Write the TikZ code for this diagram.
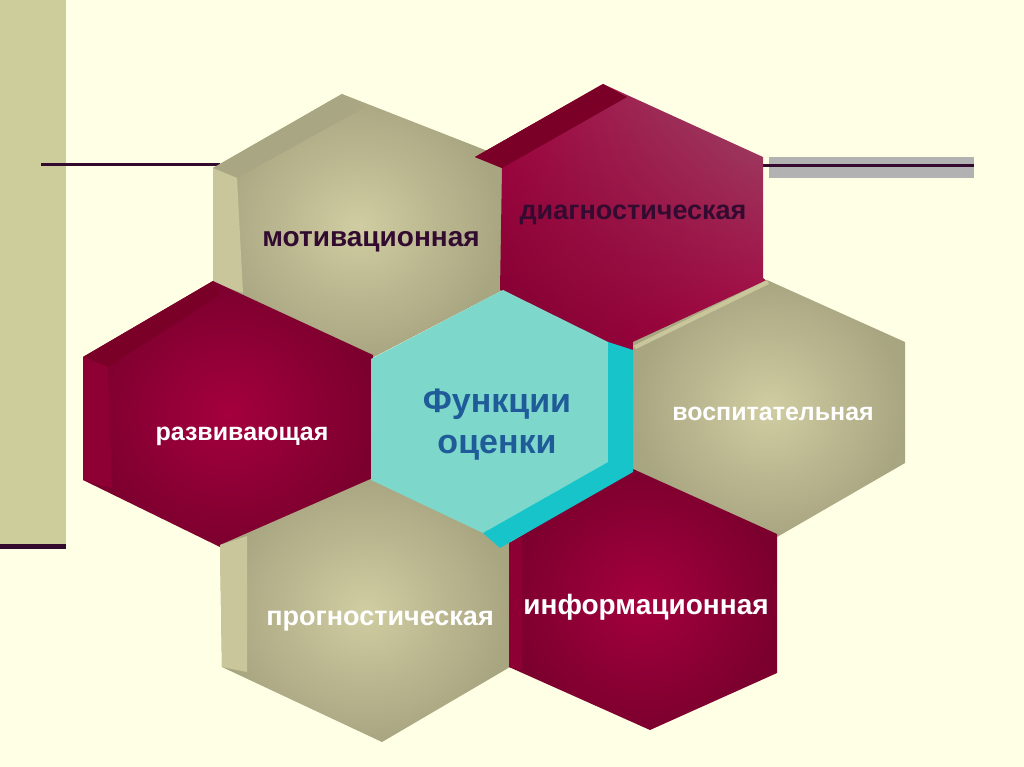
\documentclass[tikz,border=0pt]{standalone}
\usepackage{fontspec}
\setmainfont{Liberation Sans}
\usetikzlibrary{shadings}
\definecolor{bg}{HTML}{FFFFE5}
\definecolor{barkhaki}{HTML}{CDCD9B}
\definecolor{darkline}{HTML}{330A2E}
\definecolor{graybar}{HTML}{B2B2B2}
\definecolor{khakiin}{HTML}{D0CDA2}
\definecolor{khakiout}{HTML}{A8A581}
\definecolor{khakibevel}{HTML}{A9A683}
\definecolor{khakiside}{HTML}{C9C69C}
\definecolor{maroonin}{HTML}{A4003E}
\definecolor{maroonout}{HTML}{7C002E}
\definecolor{maroonbevel}{HTML}{7A0028}
\definecolor{maroonside}{HTML}{8E0034}
\definecolor{diagpink}{HTML}{9A4A68}
\definecolor{tealface}{HTML}{7DD8CB}
\definecolor{tealbevel}{HTML}{16C4CA}
\definecolor{cblue}{HTML}{1F5B98}
\definecolor{darktext}{HTML}{330A30}
\tikzset{
  lbl/.style={font=\fontsize{#1}{#1}\selectfont\bfseries, inner sep=0pt, anchor=base},
  khakihex/.style={inner color=khakiin, outer color=khakiout},
  maroonhex/.style={inner color=maroonin, outer color=maroonout}
}
\begin{document}
\begin{tikzpicture}[x=1pt,y=-1pt]
\fill[bg] (0,0) rectangle (1024,767);
\useasboundingbox (0,0) rectangle (1024,767);
% left bar and lines
\fill[barkhaki] (0,0) rectangle (66,544);
\fill[darkline] (0,544) rectangle (66,548.5);
\fill[graybar] (769,157) rectangle (974,178);
\coordinate (l1a) at (41,165);
\coordinate (l1b) at (220,165);
\coordinate (l2a) at (762,165.5);
\coordinate (l2b) at (974,165.5);
\draw[darkline, line width=3pt] (l1a) -- (l1b);
\draw[darkline, line width=2.6pt] (l2a) -- (l2b);

% motivation (khaki, top left)
\shade[khakihex] (213,168) -- (342,94) -- (503,157) -- (503,290) -- (372,358) -- (213,283) -- cycle;
\fill[khakibevel] (213,168) -- (342,94) -- (365,107) -- (237,178) -- cycle;
\fill[khakiside] (213,168) -- (237,178) -- (243,293) -- (213,283) -- cycle;

% development (maroon, left)
\shade[maroonhex] (83,357) -- (213,281) -- (373,355) -- (373,480) -- (220,547) -- (83,480) -- cycle;
\fill[maroonbevel] (83,357) -- (213,281) -- (220,295) -- (108,367) -- cycle;
\fill[maroonside] (83,357) -- (108,367) -- (112,488) -- (83,480) -- cycle;

% diagnostic (maroon, top right)
\shade[upper left=maroonin, upper right=diagpink, lower left=maroonout, lower right=maroonin] (475,157) -- (603,84) -- (763,157) -- (763,278) -- (768,282) -- (640,358) -- (500,290) -- (502,168) -- cycle;
\fill[maroonbevel] (475,157) -- (603,84) -- (627,97) -- (502,168) -- cycle;

% upbringing (khaki, right)
\shade[khakihex] (633,342) -- (767,280) -- (905,342) -- (905,463) -- (777,537) -- (633,470) -- cycle;
\fill[khakiside] (633,346) -- (767,280) -- (769,284) -- (636,349) -- cycle;

% prognostic (khaki, bottom left)
\shade[khakihex] (220,545) -- (373,478) -- (510,540) -- (510,667) -- (382,742) -- (222,667) -- cycle;
\fill[khakiside] (220,545) -- (247,536) -- (247,672) -- (222,667) -- cycle;

% informational (maroon, bottom right)
\shade[maroonhex] (509,543) -- (633,469) -- (777,534) -- (777,673) -- (650,730) -- (509,667) -- cycle;
\fill[maroonside] (509,543) -- (522,537) -- (522,670) -- (509,667) -- cycle;

% center (teal)
\fill[tealface] (503,290) -- (608,342) -- (608,462) -- (483,533) -- (371,480) -- (371,359) -- cycle;
\fill[tealbevel] (608,342) -- (633,350) -- (633,472) -- (500,548) -- (483,533) -- (608,462) -- cycle;

% labels
\node[lbl=28, text=darktext] (mot) at (371,247) {мотивационная};
\node[lbl=27, text=darktext] (diag) at (633,220) {диагностическая};
\node[lbl=25, text=white] (dev) at (242,440) {развивающая};
\node[lbl=25, text=white] (upb) at (773,420) {воспитательная};
\node[lbl=27, text=white] (prog) at (380,625) {прогностическая};
\node[lbl=28, text=white] (info) at (646,614) {информационная};
\node[lbl=34, text=cblue] (cen1) at (497,412) {Функции};
\node[lbl=34, text=cblue] (cen2) at (497,453) {оценки};
\end{tikzpicture}
\end{document}
